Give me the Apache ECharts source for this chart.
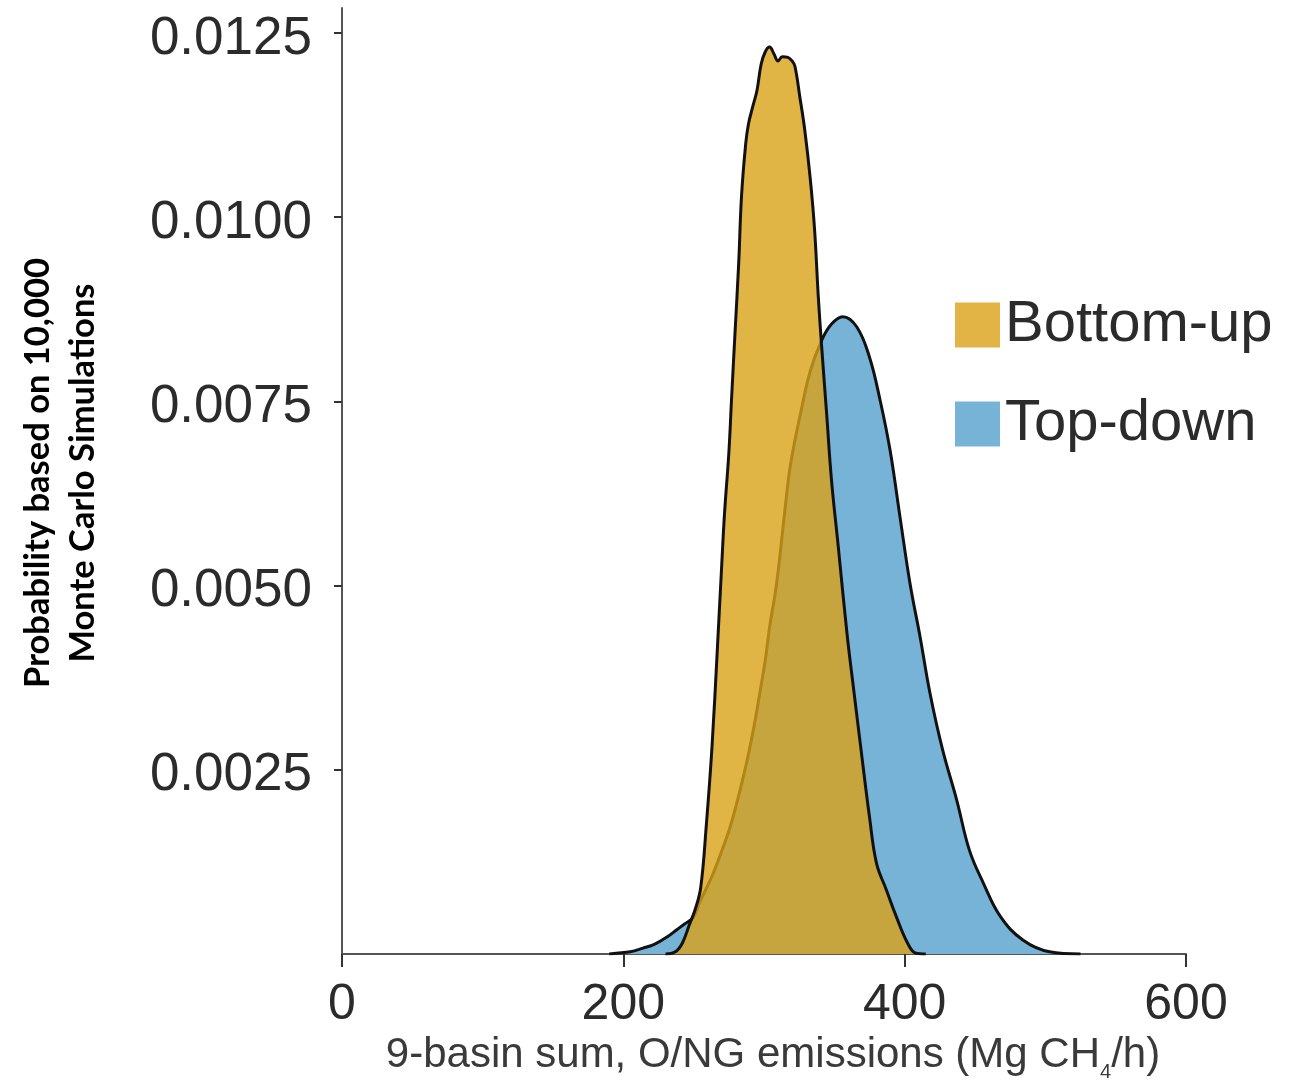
<!DOCTYPE html>
<html>
<head>
<meta charset="utf-8">
<script src="https://cdn.jsdelivr.net/npm/echarts@6/dist/echarts.min.js"></script>
<style>
html,body{margin:0;padding:0;background:#fff;}
#chart{width:1301px;height:1080px;}
</style>
</head>
<body>
<div id="chart"></div>
<script>
// ---- Data ----
const seriesNames = ['Bottom-up', 'Top-down'];

// Bottom-up distribution: x = emissions (Mg CH4/h), y = probability
const bottomUpX = [230,237,242,247,251,255,259,263,267,270,272,275,277,279.5,282,284,287,289,292,295,298,301,304,307,310,313,317,320,322,325.5,329,333,336,338.6,341,344.5,348,352.8,359,364,369,375,380,387,394,402,408,415];
const bottomUpY = [0,0.00003,0.00015,0.00040,0.00060,0.00090,0.00175,0.00280,0.00420,0.00530,0.00600,0.00680,0.00756,0.00847,0.00937,0.01028,0.01100,0.01127,0.01150,0.01172,0.01208,0.01225,0.01231,0.01222,0.01212,0.01218,0.01217,0.01212,0.01205,0.01163,0.01118,0.01050,0.00982,0.00892,0.00824,0.00734,0.00643,0.00553,0.00435,0.00355,0.00277,0.00186,0.00123,0.00087,0.00051,0.00015,0.00001,0];

// Top-down distribution
const topDownX = [190,195,205,214,222,231,238,243,250,254,258,264,270,276,282,288,293,297,301,304,308,311,315,319,326,333,341,348,356,366,375,382.5,389.6,396.7,403.8,411,418,427,437,446,456,468,484,503,525];
const topDownY = [0,0.00001,0.00003,0.00008,0.00013,0.00023,0.00033,0.00040,0.00050,0.00069,0.00085,0.00110,0.00140,0.00173,0.00215,0.00263,0.00310,0.00354,0.00400,0.00444,0.00490,0.00535,0.00605,0.00666,0.00734,0.00792,0.00833,0.00855,0.00865,0.00851,0.00810,0.00752,0.00684,0.00593,0.00503,0.00430,0.00354,0.00277,0.00209,0.00141,0.00096,0.00051,0.00019,0.00003,0];

// Tick labels
const xTicks = [0, 200, 400, 600];
const yTicks = [0.0025, 0.0050, 0.0075, 0.0100, 0.0125];

const xTitle = '9-basin sum, O/NG emissions (Mg CH';
const xTitleSub = '4';
const xTitleEnd = '/h)';
const yTitleLines = ['Probability based on 10,000', 'Monte Carlo Simulations'];

// ---- Build ----
const pairs = (xs, ys) => xs.map((x, i) => [x, ys[i]]);

const chart = echarts.init(document.getElementById('chart'), null, {renderer: 'canvas'});

const option = {
  animation: false,
  backgroundColor: '#ffffff',
  grid: {left: 342, right: 115, top: 8, bottom: 126, containLabel: false, outerBoundsMode: 'none'},
  legend: {
    orient: 'vertical',
    left: 950,
    top: 291,
    icon: 'rect',
    itemWidth: 45,
    itemHeight: 45,
    itemGap: 41,
    textStyle: {fontFamily: 'Liberation Sans', fontSize: 58, color: '#2b2b2b', padding: [0, 0, 0, 0]},
    itemStyle: {borderWidth: 0},
    data: [
      {name: seriesNames[0], itemStyle: {color: '#E2B446', borderWidth: 0}},
      {name: seriesNames[1], itemStyle: {color: '#77B3D6', borderWidth: 0}}
    ]
  },
  xAxis: {
    type: 'value',
    min: 0, max: 600, interval: 200,
    name: '{a|' + xTitle + '}{s|' + xTitleSub + '}{a|' + xTitleEnd + '}',
    nameLocation: 'middle',
    nameGap: 78,
    nameTextStyle: {
      padding: [0, 0, 0, 18],
      rich: {
        a: {fontFamily: 'Liberation Sans', fontSize: 42, color: '#3a3a3a', lineHeight: 48, verticalAlign: 'top'},
        s: {fontFamily: 'Liberation Sans', fontSize: 20, color: '#3a3a3a', lineHeight: 24, verticalAlign: 'bottom'}
      }
    },
    axisLine: {show: true, onZero: false, lineStyle: {color: '#555', width: 2}},
    axisTick: {show: true, length: 13, lineStyle: {color: '#333', width: 2}, customValues: xTicks},
    axisLabel: {fontFamily: 'Liberation Sans', fontSize: 50, color: '#2b2b2b', margin: 26, customValues: xTicks},
    splitLine: {show: false}
  },
  yAxis: {
    type: 'value',
    min: 0, max: 0.01284,
    axisLine: {show: true, onZero: false, lineStyle: {color: '#555', width: 2}},
    axisTick: {show: true, length: 8, lineStyle: {color: '#333', width: 2}, customValues: yTicks},
    axisLabel: {
      margin: 30,
      customValues: yTicks,
      formatter: v => '{p|' + v.toFixed(4) + '}',
      rich: {
        p: {fontFamily: 'Liberation Sans', fontSize: 53, color: '#2b2b2b', padding: [12, 0, 0, 0]}
      }
    },
    splitLine: {show: false}
  },
  graphic: [{
    type: 'text',
    x: 60, y: 473,
    rotation: Math.PI / 2,
    style: {
      text: yTitleLines.join('\n'),
      fontFamily: 'Lato', fontWeight: 'bold', fontSize: 34.5, lineHeight: 45,
      fill: '#000', align: 'center', verticalAlign: 'middle'
    }
  }],
  series: [
    {
      name: seriesNames[1],
      type: 'line',
      data: pairs(topDownX, topDownY),
      smooth: 0.4,
      symbol: 'none',
      z: 2,
      itemStyle: {color: '#77B3D6'},
      lineStyle: {color: '#111', width: 3},
      areaStyle: {color: '#77B3D6', opacity: 1}
    },
    {
      name: seriesNames[0],
      type: 'line',
      data: pairs(bottomUpX, bottomUpY),
      smooth: 0.4,
      symbol: 'none',
      z: 3,
      itemStyle: {color: '#E2B446'},
      lineStyle: {color: '#111', width: 3},
      areaStyle: {color: '#D9A118', opacity: 0.8}
    }
  ]
};
chart.setOption(option);
</script>
</body>
</html>
